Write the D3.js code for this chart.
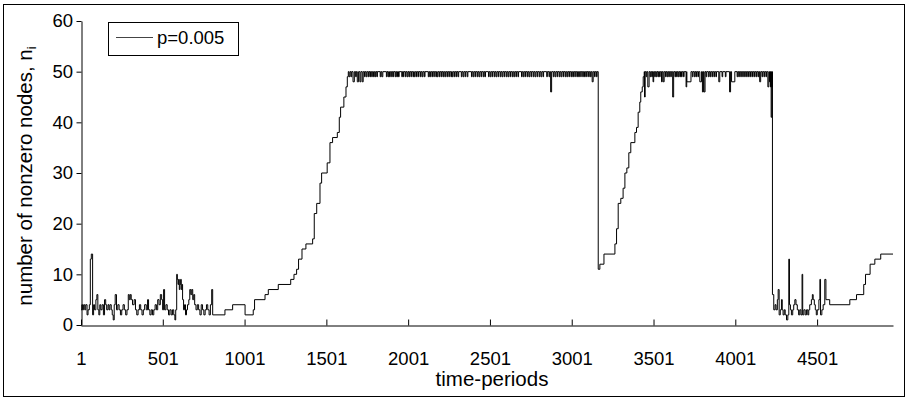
<!DOCTYPE html>
<html>
<head>
<meta charset="utf-8">
<script src="https://cdn.jsdelivr.net/npm/d3@7"></script>
<style>
  body { margin: 0; background: #fff; }
  text { font-family: "Liberation Sans", Arial, sans-serif; fill: #000; }
</style>
</head>
<body>
<script>
// tick labels
const xTicks = [1, 501, 1001, 1501, 2001, 2501, 3001, 3501, 4001, 4501];
const yTicks = [0, 10, 20, 30, 40, 50, 60];
const seriesName = "p=0.005";

// [period, value] -- value holds until the next period (step series)
const lowPhase1 = [
  [1,3],[6,4],[11,3],[17,4],[24,3],[30,4],[38,2],[44,3],[52,4],[58,13],[64,14],[72,2],
  [78,4],[84,3],[92,5],[98,6],[104,3],[110,2],[116,4],[122,3],[130,4],[138,2],[145,5],
  [152,4],[158,3],[166,4],[172,3],[178,4],[186,3],[192,2],[198,1],[204,4],[210,6],[218,3],
  [226,4],[234,3],[242,2],[250,3],[258,4],[266,3],[274,2],[282,3],[290,6],[296,5],[302,6],
  [308,5],[316,4],[326,5],[334,3],[342,2],[350,3],[358,4],[366,3],[374,2],[382,3],[390,4],
  [400,3],[408,5],[414,3],[422,2],[430,3],[438,2],[446,3],[454,4],[462,3],[470,5],[478,4],
  [486,6],[494,5],[500,3],[506,7],[512,3],[520,4],[528,3],[536,2],[544,3],[552,2],[560,3],
  [568,2],[575,1],[580,3],[586,10],[590,9],[594,8],[598,9],[602,7],[606,8],[610,9],[614,7],
  [618,8],[622,5],[628,3],[634,4],[640,2],[646,3],[652,4],[660,5],[666,7],[672,6],[678,7],
  [684,5],[690,6],[696,4],[704,3],[712,4],[720,3],[728,2],[736,4],[744,3],[752,2],[760,3],
  [768,4],[776,3],[784,2],[792,4],[800,7],[806,2],[881,3],[928,4],[1004,2]
];
const risePhase1 = [
  [1054,3],[1062,5],[1126,6],[1146,7],[1207,8],[1283,9],[1303,10],[1319,11],[1331,13],
  [1352,15],[1376,16],[1417,17],[1427,22],[1442,24],[1462,28],[1472,30],[1506,32],[1523,36],
  [1539,37],[1568,38],[1580,41],[1588,43],[1608,45],[1621,47],[1629,49],[1635,50]
];
// [from, to, value] short drops below the 50 ceiling
const plateauDips1 = [
  [1640,1646,49],[1652,1656,49],[1664,1672,48],[1680,1684,49],[1690,1698,48],[1706,1712,48],
  [1720,1726,48],[1734,1738,49],[1745,1750,49],[1758,1762,49],[1768,1771,49],[1778,1782,49],
  [1789,1794,49],[1800,1804,49],[1810,1813,49],[1830,1834,49],[1840,1846,49],[1868,1872,49],
  [1878,1882,49],[1887,1892,49],[1900,1904,49],[1910,1913,49],[1922,1926,49],[1931,1936,49],
  [1942,1946,49],[1962,1966,49],[1972,1975,49],[1984,1988,49],[1995,2000,49],[2006,2010,49],
  [2018,2021,49],[2030,2034,49],[2039,2044,49],[2052,2056,49],[2064,2067,49],[2076,2080,49],
  [2087,2092,49],[2100,2104,49],[2124,2128,49],[2133,2138,49],[2146,2150,49],[2158,2161,49],
  [2170,2174,49],[2179,2184,49],[2192,2196,49],[2204,2207,49],[2214,2218,49],[2225,2230,49],
  [2238,2242,49],[2250,2253,49],[2262,2266,49],[2271,2276,49],[2284,2288,49],[2296,2299,49],
  [2306,2310,49],[2326,2330,49],[2337,2342,49],[2350,2353,49],[2362,2366,49],[2388,2392,49],
  [2399,2404,49],[2412,2415,49],[2424,2428,49],[2435,2440,49],[2448,2451,49],[2460,2464,49],
  [2470,2474,49],[2492,2496,49],[2503,2508,49],[2516,2519,49],[2528,2532,49],[2539,2544,49],
  [2552,2555,49],[2564,2568,49],[2575,2580,49],[2588,2591,49],[2600,2604,49],[2611,2616,49],
  [2624,2627,49],[2636,2640,49],[2647,2652,49],[2660,2663,49],[2672,2676,49],[2694,2698,49],
  [2705,2710,49],[2718,2721,49],[2730,2734,49],[2741,2746,49],[2754,2757,49],[2766,2770,49],
  [2777,2782,49],[2790,2793,49],[2802,2806,49],[2813,2818,49],[2826,2829,49],[2848,2852,49],
  [2862,2866,49],[2872,2878,46],[2888,2892,49],[2899,2904,49],[2912,2915,49],[2924,2928,49],
  [2935,2940,49],[2948,2951,49],[2960,2964,49],[2971,2976,49],[2984,2987,49],[2996,3000,49],
  [3007,3012,49],[3020,3023,49],[3032,3036,49],[3043,3048,49],[3056,3059,49],[3068,3072,49],
  [3079,3084,49],[3092,3095,49],[3104,3108,49],[3115,3120,49],[3126,3132,48],[3140,3144,49],
  [3152,3156,49]
];
const dropAndRise2 = [
  [3163,11],[3173,12],[3198,14],[3265,16],[3275,19],[3285,24],[3301,25],[3315,27],[3326,30],
  [3338,31],[3350,34],[3362,36],[3387,38],[3397,39],[3407,42],[3417,44],[3423,46],[3432,47],
  [3438,49],[3444,50]
];
const plateauDips2 = [
  [3446,3450,45],[3456,3460,49],[3466,3474,47],[3480,3484,49],[3490,3494,49],[3498,3502,48],
  [3508,3512,49],[3518,3522,49],[3528,3532,49],[3538,3542,49],[3550,3554,48],[3560,3566,48],
  [3574,3578,49],[3584,3588,49],[3594,3598,49],[3606,3610,49],[3618,3624,45],[3632,3636,49],
  [3642,3646,49],[3652,3656,49],[3662,3666,49],[3672,3676,49],[3684,3688,49],[3700,3704,47],
  [3704,3730,48],[3738,3742,49],[3750,3754,49],[3760,3764,49],[3772,3776,49],[3784,3794,48],
  [3800,3806,46],[3810,3816,46],[3822,3826,49],[3836,3840,49],[3846,3850,49],[3858,3862,49],
  [3870,3874,49],[3882,3886,49],[3900,3906,48],[3920,3924,49],[3940,3944,49],[3966,3972,46],
  [3978,3998,48],[4012,4016,49],[4022,4026,49],[4034,4038,49],[4046,4050,49],[4058,4062,49],
  [4070,4074,49],[4082,4086,49],[4094,4098,49],[4106,4110,49],[4118,4122,49],[4130,4134,49],
  [4142,4146,49],[4150,4156,48],[4164,4168,49],[4176,4180,49],[4188,4192,49],[4200,4206,47],
  [4210,4214,48],[4216,4220,47],[4220,4224,41],[4224,4228,47]
];
const lowPhase2 = [
  [4228,6],[4236,3],[4244,4],[4250,3],[4258,5],[4263,7],[4269,2],[4276,3],[4283,5],[4288,3],
  [4293,2],[4300,3],[4306,2],[4314,1],[4322,2],[4328,13],[4332,4],[4338,3],[4344,2],[4352,3],
  [4358,4],[4365,5],[4372,4],[4380,3],[4388,2],[4395,3],[4402,2],[4409,10],[4413,2],[4420,3],
  [4428,2],[4436,3],[4444,2],[4450,3],[4456,4],[4466,5],[4472,6],[4477,5],[4484,4],[4490,3],
  [4496,2],[4502,3],[4512,5],[4518,9],[4522,2],[4530,3],[4538,4],[4548,9],[4555,5],[4578,4],
  [4701,5],[4742,6],[4786,8],[4797,10],[4825,12],[4854,13],[4890,14],[4965,14]
];

// build one step series
let series = [].concat(lowPhase1, risePhase1);
plateauDips1.forEach(d => { series.push([d[0], d[2]]); series.push([d[1], 50]); });
series = series.concat(dropAndRise2);
plateauDips2.forEach(d => { series.push([d[0], d[2]]); series.push([d[1], 50]); });
series = series.concat(lowPhase2);
series.sort((a, b) => a[0] - b[0]);

const width = 909, height = 399;
const svg = d3.select("body").append("svg")
    .attr("width", width)
    .attr("height", height);

svg.append("rect")
    .attr("x", 3.5).attr("y", 4.5)
    .attr("width", 901).attr("height", 392)
    .attr("fill", "none").attr("stroke", "#000");

const x = d3.scaleLinear().domain([1, 4965]).range([81, 893]);
const y = d3.scaleLinear().domain([0, 60]).range([325, 21]);

const line = d3.line()
    .x(d => x(d[0]))
    .y(d => y(d[1]))
    .curve(d3.curveStepAfter);

svg.append("path")
    .datum(series)
    .attr("d", line)
    .attr("fill", "none")
    .attr("stroke", "#000")
    .attr("stroke-width", 1);

const yAxis = svg.append("g")
    .attr("transform", "translate(81.5,0)")
    .call(d3.axisLeft(y).tickValues(yTicks).tickSize(5).tickSizeOuter(0).tickPadding(3.5));
const xAxis = svg.append("g")
    .attr("transform", "translate(0,325.5)")
    .call(d3.axisBottom(x).tickValues(xTicks).tickFormat(d3.format("d"))
        .tickSizeInner(-6).tickSizeOuter(0).tickPadding(26));

[xAxis, yAxis].forEach(g => {
  g.selectAll("path, line").attr("stroke", "#000");
  g.selectAll("text").attr("font-size", 18.5)
      .attr("font-family", "Liberation Sans, Arial, sans-serif").attr("fill", "#000");
});

svg.append("text")
    .attr("x", 492).attr("y", 386)
    .attr("text-anchor", "middle")
    .attr("font-size", 20.5)
    .text("time-periods");

const yLabel = svg.append("text")
    .attr("transform", "translate(31.5,176) rotate(-90)")
    .attr("text-anchor", "middle")
    .attr("font-size", 20.5);
yLabel.append("tspan").text("number of nonzero nodes, n");
yLabel.append("tspan").attr("font-size", 13).attr("dy", 4).text("i");

// legend
const legend = svg.append("g");
legend.append("rect")
    .attr("x", 108.5).attr("y", 22.5)
    .attr("width", 130).attr("height", 33)
    .attr("fill", "#fff").attr("stroke", "#000");
legend.append("line")
    .attr("x1", 116).attr("x2", 153)
    .attr("y1", 37.5).attr("y2", 37.5)
    .attr("stroke", "#444");
legend.append("text")
    .attr("x", 157).attr("y", 44)
    .attr("font-size", 18.5)
    .text(seriesName);
</script>
</body>
</html>
